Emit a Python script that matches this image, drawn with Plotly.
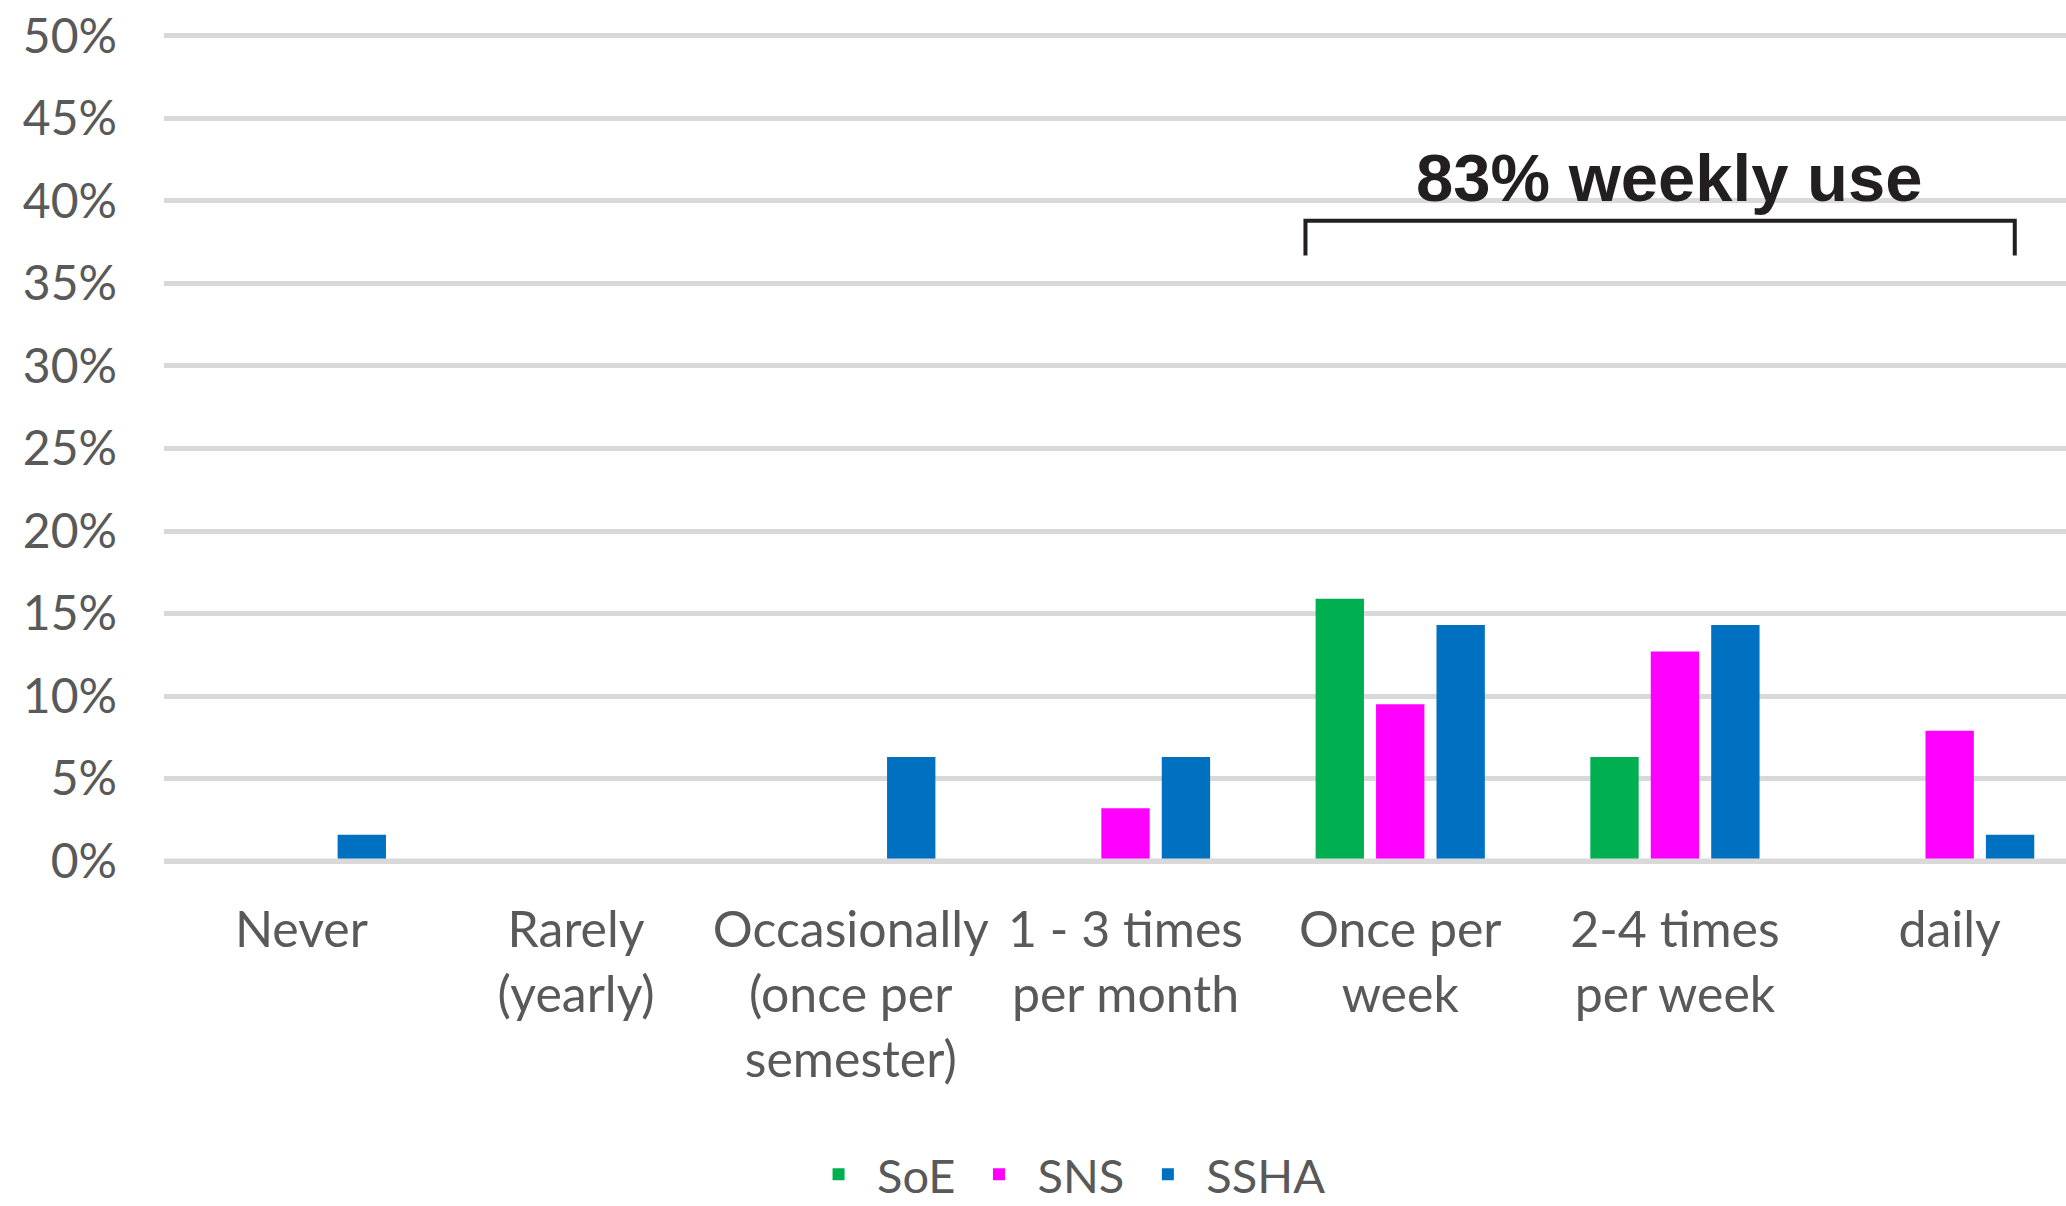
import plotly.graph_objects as go

categories = ["Never", "Rarely<br>(yearly)", "Occasionally<br>(once per<br>semester)",
              "1 - 3 times<br>per month", "Once per<br>week", "2-4 times<br>per week", "daily"]
series_names = ["SoE", "SNS", "SSHA"]
soe = [0, 0, 0, 0, 0.159, 0.063, 0]
sns = [0, 0, 0, 0.032, 0.095, 0.127, 0.079]
ssha = [0.016, 0, 0.063, 0.063, 0.143, 0.143, 0.016]
colors = ["#00b050", "#ff00ff", "#0070c0"]
y_ticks = [0, 0.05, 0.10, 0.15, 0.20, 0.25, 0.30, 0.35, 0.40, 0.45, 0.50]
annotation_text = "83% weekly use"

W, H = 2066, 1206
fig = go.Figure()
for name, vals, col in zip(series_names, [soe, sns, ssha], colors):
    fig.add_trace(go.Bar(x=list(range(len(categories))), y=vals, name=name,
                         marker=dict(color=col, line=dict(width=0))))

grid_col = "#d9d9d9"
font_fam = "Lato, 'Open Sans', sans-serif"
fig.update_layout(
    width=W, height=H,
    margin=dict(l=164, r=0, t=31, b=340, autoexpand=False),
    plot_bgcolor="white", paper_bgcolor="white",
    barmode="group", bargap=0.34, bargroupgap=0.2,
    font=dict(family=font_fam, color="#595959", size=48),
    xaxis=dict(tickmode="array", tickvals=list(range(len(categories))), ticktext=categories,
               range=[-0.5, 6.4235], showgrid=False, zeroline=False, showline=False,
               ticks="", tickfont=dict(size=50, color="#595959"), ticklabelstandoff=30,
               automargin=False),
    yaxis=dict(range=[-0.003, 0.503], tickvals=y_ticks, tickformat=".0%",
               showgrid=True, gridcolor=grid_col, gridwidth=5, zeroline=False,
               showline=False, ticks="", tickfont=dict(size=48, color="#595959"),
               ticklabelstandoff=46, automargin=False),
    legend=dict(orientation="h", x=0.474, xanchor="center", yref="container", y=0.026,
                yanchor="middle", itemwidth=67,
                font=dict(size=47, color="#595959"), traceorder="normal"),
    showlegend=True,
)
# baseline gridline drawn above bars
fig.add_shape(type="line", xref="paper", yref="y", x0=0, x1=1, y0=0, y1=0,
              line=dict(color=grid_col, width=5), layer="above")
# bracket
fig.add_shape(type="path", xref="x", yref="y",
              path="M 3.655,0.367 L 3.655,0.388 L 6.237,0.388 L 6.237,0.367",
              line=dict(color="#231f20", width=4))
fig.add_annotation(x=4.98, y=0.414, xref="x", yref="y", text="<b>" + annotation_text + "</b>",
                   showarrow=False, font=dict(family="'Liberation Sans', Arial, sans-serif",
                                              size=67, color="#231f20"),
                   xanchor="center", yanchor="middle")

fig.write_html("out.html", config={"displayModeBar": False},
               post_script="document.body.style.margin='0';")
